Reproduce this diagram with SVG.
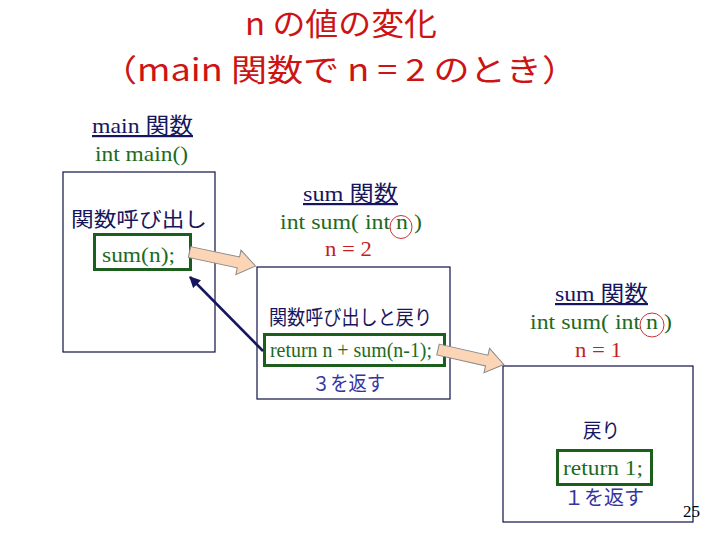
<svg xmlns="http://www.w3.org/2000/svg" width="720" height="540" viewBox="0 0 720 540">
<defs>
<style>
.frame{fill:none;stroke:#10104a;stroke-width:1.2}
.gbox{fill:none;stroke:#1c5e1c;stroke-width:3}
.title{font-family:"Noto Sans CJK JP","Noto Sans",sans-serif;font-size:31px;fill:#cc1414}
.hd{font-family:"Liberation Serif","Noto Sans CJK JP",serif;font-size:22px;fill:#16165e;text-decoration:underline}
.code{font-family:"Liberation Serif",serif;font-size:22px;fill:#1e6a1e}
.val{font-family:"Liberation Serif",serif;font-size:22px;fill:#c41e1e}
.jp{font-family:"Noto Sans CJK JP",sans-serif;font-size:20px;fill:#16165e}
.ret{font-family:"Noto Sans CJK JP",sans-serif;font-size:20px;fill:#3636a0}
.ring{fill:none;stroke:#cc3333;stroke-width:1}
.blk{fill:#fbd5b6;stroke:#8a8a8a;stroke-width:1}
.back{stroke:#16165e;stroke-width:2.5;fill:none}
</style>
<marker id="ah" viewBox="0 0 10 10" refX="9" refY="5" markerWidth="4.5" markerHeight="4.5" orient="auto" markerUnits="strokeWidth">
<path d="M0,0 L10,5 L0,10 Z" fill="#16165e"/>
</marker>
<path id="blockArrow" d="M0,-5.5 L50,-5.5 L50,-12.5 L67.5,0 L50,12.5 L50,5.5 L0,5.5 Z"/>
</defs>
<rect width="720" height="540" fill="#ffffff"/>

<g id="title">
<text class="title" x="245" y="35" textLength="192" lengthAdjust="spacingAndGlyphs">n の値の変化</text>
<text class="title" x="101" y="81" textLength="477" lengthAdjust="spacingAndGlyphs">（main 関数で n = 2 のとき）</text>
</g>

<g id="main-func">
<text class="hd" x="92" y="133" textLength="101" lengthAdjust="spacingAndGlyphs">main 関数</text>
<text class="code" x="95" y="161" textLength="93" lengthAdjust="spacingAndGlyphs">int main()</text>
<rect class="frame" x="63" y="172" width="152" height="180"/>
<text class="jp" x="71" y="227" font-size="22" textLength="136" lengthAdjust="spacingAndGlyphs">関数呼び出し</text>
<rect class="gbox" x="94.5" y="234.5" width="96" height="35"/>
<text class="code" x="102" y="262" textLength="73" lengthAdjust="spacingAndGlyphs">sum(n);</text>
</g>

<g id="sum-n2">
<text class="hd" x="303" y="201" textLength="95" lengthAdjust="spacingAndGlyphs">sum 関数</text>
<text class="code" x="280" y="229" textLength="142" lengthAdjust="spacingAndGlyphs">int sum( int n )</text>
<ellipse class="ring" cx="401" cy="227" rx="11" ry="11.5"/>
<text class="val" x="325" y="256" textLength="47" lengthAdjust="spacingAndGlyphs">n = 2</text>
<rect class="frame" x="257" y="267" width="193" height="132"/>
<text class="jp" x="269" y="325" font-size="18" textLength="163" lengthAdjust="spacingAndGlyphs">関数呼び出しと戻り</text>
<rect class="gbox" x="264.5" y="334.5" width="180" height="31"/>
<text class="code" x="270" y="357" font-size="20" textLength="162" lengthAdjust="spacingAndGlyphs">return n + sum(n-1);</text>
<text class="ret" x="312" y="391" font-size="18" textLength="73" lengthAdjust="spacingAndGlyphs">３を返す</text>
</g>

<g id="sum-n1">
<text class="hd" x="555" y="301" textLength="93" lengthAdjust="spacingAndGlyphs">sum 関数</text>
<text class="code" x="530" y="329" textLength="142" lengthAdjust="spacingAndGlyphs">int sum( int n )</text>
<ellipse class="ring" cx="652" cy="325" rx="12" ry="12"/>
<text class="val" x="575" y="357" textLength="47" lengthAdjust="spacingAndGlyphs">n = 1</text>
<rect class="frame" x="503" y="366" width="190" height="156"/>
<text class="jp" x="583" y="438" textLength="37" lengthAdjust="spacingAndGlyphs">戻り</text>
<rect class="gbox" x="557.5" y="450.5" width="94" height="34"/>
<text class="code" x="563" y="475" textLength="80" lengthAdjust="spacingAndGlyphs">return 1;</text>
<text class="ret" x="564" y="505" textLength="80" lengthAdjust="spacingAndGlyphs">１を返す</text>
</g>

<g id="page-number">
<text x="683" y="517" font-family="Liberation Serif, serif" font-size="17" fill="#000000">25</text>
</g>

<g id="connectors">
<use href="#blockArrow" class="blk" transform="translate(189.5,252) rotate(12)"/>
<use href="#blockArrow" class="blk" transform="translate(438,349.5) rotate(12.8)"/>
<line class="back" x1="263" y1="351" x2="190" y2="277" marker-end="url(#ah)"/>
</g>
</svg>
